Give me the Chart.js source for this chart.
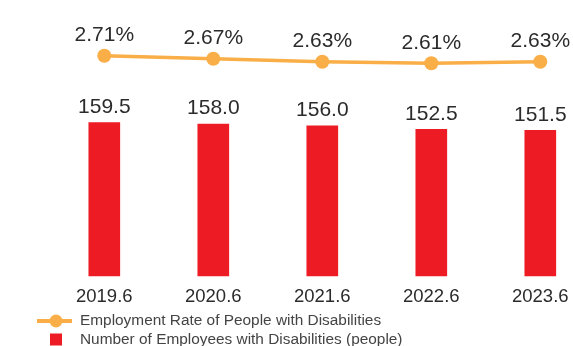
<!DOCTYPE html>
<html>
<head>
<meta charset="utf-8">
<script src="https://cdn.jsdelivr.net/npm/chart.js@4"></script>
<style>
  html, body { margin: 0; padding: 0; background: #fff; }
  .wrap { width: 573px; height: 346px; }
</style>
</head>
<body>
<div class="wrap"><canvas id="myChart"></canvas></div>
<script>
const years = ['2019.6', '2020.6', '2021.6', '2022.6', '2023.6'];
const employeeCount = [159.5, 158.0, 156.0, 152.5, 151.5];
const employmentRate = [2.71, 2.67, 2.63, 2.61, 2.63];

const rateLabel = 'Employment Rate of People with Disabilities';
const countLabel = 'Number of Employees with Disabilities (people)';

const orange = '#F9AE47';
const red = '#ED1C24';
const textColor = '#2b2b2b';
const fontFamily = '"Liberation Sans", Arial, Helvetica, sans-serif';

// value labels above bars and points
const valueLabels = {
    id: 'valueLabels',
    afterDatasetsDraw(chart) {
        const ctx = chart.ctx;
        ctx.save();
        ctx.fillStyle = textColor;
        ctx.textAlign = 'center';
        ctx.textBaseline = 'alphabetic';
        ctx.font = '21px ' + fontFamily;
        chart.data.datasets.forEach((ds, i) => {
            const meta = chart.getDatasetMeta(i);
            meta.data.forEach((el, j) => {
                const v = ds.data[j];
                if (ds.type === 'line') {
                    ctx.fillText(v.toFixed(2) + '%', el.x, el.y - 14.5);
                } else {
                    ctx.fillText(v.toFixed(1), el.x, el.y - 9.5);
                }
            });
        });
        ctx.restore();
    }
};

// stacked legend at the bottom left
const bottomLegend = {
    id: 'bottomLegend',
    afterDraw(chart) {
        const ctx = chart.ctx;
        const rows = [chart.height - 25, chart.height - 6.5];
        ctx.save();
        chart.data.datasets.forEach((ds, i) => {
            const y = rows[i];
            if (ds.type === 'line') {
                ctx.strokeStyle = ds.borderColor;
                ctx.lineWidth = 4;
                ctx.beginPath();
                ctx.moveTo(37, y);
                ctx.lineTo(72, y);
                ctx.stroke();
                ctx.fillStyle = ds.borderColor;
                ctx.beginPath();
                ctx.arc(56, y, 6.5, 0, Math.PI * 2);
                ctx.fill();
            } else {
                ctx.fillStyle = ds.backgroundColor;
                ctx.fillRect(50, y - 6, 12, 12);
            }
            ctx.fillStyle = '#444';
            ctx.font = '15.4px ' + fontFamily;
            ctx.textAlign = 'left';
            ctx.textBaseline = 'middle';
            ctx.fillText(ds.label, 80, y);
        });
        ctx.restore();
    }
};

// keep edge labels from pushing the plot area inward
function noScalePadding(scale) {
    scale.paddingLeft = 0;
    scale.paddingRight = 0;
    scale.paddingTop = 0;
    scale.paddingBottom = 0;
}

new Chart(document.getElementById('myChart'), {
    data: {
        labels: years,
        datasets: [
            {
                type: 'line',
                label: rateLabel,
                data: employmentRate,
                yAxisID: 'y1',
                borderColor: orange,
                backgroundColor: orange,
                borderWidth: 3.5,
                pointRadius: 7,
                pointHoverRadius: 7,
                pointBackgroundColor: orange,
                pointBorderWidth: 0,
                tension: 0,
                clip: false
            },
            {
                type: 'bar',
                label: countLabel,
                data: employeeCount,
                yAxisID: 'y',
                backgroundColor: red,
                barThickness: 31,
                clip: false
            }
        ]
    },
    options: {
        responsive: true,
        maintainAspectRatio: false,
        animation: false,
        events: [],
        layout: {
            padding: { left: 104.3, right: 32.7, top: 20, bottom: 27.8 }
        },
        plugins: {
            legend: { display: false },
            tooltip: { enabled: false }
        },
        scales: {
            x: {
                offset: false,
                grid: { display: false, drawTicks: false, tickLength: 0 },
                border: { display: false },
                ticks: {
                    padding: 10,
                    color: textColor,
                    font: { family: fontFamily, size: 18.5 },
                    maxRotation: 0
                },
                afterFit: noScalePadding
            },
            y: {
                display: false,
                min: 0,
                max: 266.1,
                afterFit: noScalePadding
            },
            y1: {
                display: false,
                position: 'right',
                min: -0.208,
                max: 3.183,
                afterFit: noScalePadding
            }
        }
    },
    plugins: [valueLabels, bottomLegend]
});
</script>
</body>
</html>
